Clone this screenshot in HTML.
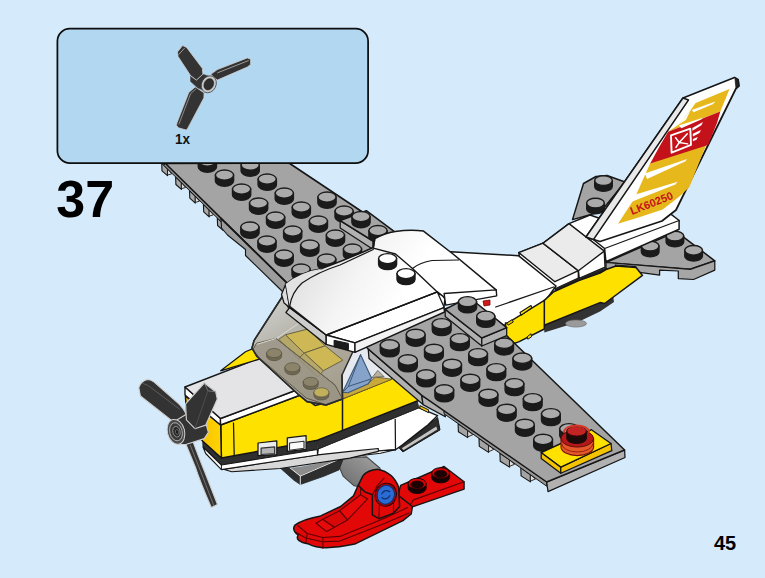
<!DOCTYPE html>
<html><head><meta charset="utf-8"><title>37</title>
<style>
html,body{margin:0;padding:0;}
body{width:765px;height:578px;overflow:hidden;background:#d5ebfb;position:relative;font-family:"Liberation Sans",sans-serif;}
svg{position:absolute;left:0;top:0;}
.box{position:absolute;left:56.5px;top:27.8px;width:309px;height:132.5px;border:1.7px solid #0d0d0d;border-radius:13px;background:#b2d7f1;}
.step{position:absolute;left:56.3px;top:171px;font-weight:bold;font-size:52px;line-height:57px;color:#000;}
.qty{position:absolute;left:174.6px;top:130.6px;font-weight:bold;font-size:15px;line-height:16px;color:#111;transform:scaleX(0.9);transform-origin:0 0;}
.pg{position:absolute;left:714px;top:532px;font-weight:bold;font-size:20px;line-height:22px;color:#000;}
</style></head><body>
<svg width="765" height="578" viewBox="0 0 765 578">
<polygon points="161.7,163.2 162.0,170.8 167.5,175.7 167.5,168.9" fill="#a9a9a9" stroke="#161616" stroke-width="1.125" stroke-linejoin="round" />
<polygon points="167.5,168.9 167.5,175.0 171.7,173.9" fill="#dedede" stroke="#161616" stroke-width="0.875" stroke-linejoin="round" />
<polygon points="175.6,176.9 175.9,184.5 181.4,189.4 181.4,182.6" fill="#a9a9a9" stroke="#161616" stroke-width="1.125" stroke-linejoin="round" />
<polygon points="181.4,182.6 181.4,188.7 185.6,187.5" fill="#dedede" stroke="#161616" stroke-width="0.875" stroke-linejoin="round" />
<polygon points="189.5,190.6 189.8,198.2 195.3,203.1 195.3,196.3" fill="#a9a9a9" stroke="#161616" stroke-width="1.125" stroke-linejoin="round" />
<polygon points="195.3,196.3 195.3,202.4 199.5,201.2" fill="#dedede" stroke="#161616" stroke-width="0.875" stroke-linejoin="round" />
<polygon points="203.4,204.3 203.7,211.9 209.2,216.8 209.2,210.0" fill="#a9a9a9" stroke="#161616" stroke-width="1.125" stroke-linejoin="round" />
<polygon points="209.2,210.0 209.2,216.1 213.4,214.9" fill="#dedede" stroke="#161616" stroke-width="0.875" stroke-linejoin="round" />
<polygon points="217.3,217.9 217.6,225.5 223.1,230.4 223.1,223.6" fill="#a9a9a9" stroke="#161616" stroke-width="1.125" stroke-linejoin="round" />
<polygon points="223.1,223.6 223.1,229.7 227.3,228.6" fill="#dedede" stroke="#161616" stroke-width="0.875" stroke-linejoin="round" />
<polygon points="165.5,163.5 290.0,286.0 288.2,287.7 163.7,165.2" fill="#8e8e8e" stroke="#161616" stroke-width="1.0" stroke-linejoin="round" />
<polygon points="165.5,163.5 289.0,163.0 352.0,205.0 392.0,232.0 400.0,262.0 290.0,286.0" fill="#a4a4a4" stroke="#161616" stroke-width="1.625" stroke-linejoin="round" />
<polygon points="221.0,218.5 290.0,286.0 283.0,292.0 245.5,255.5 245.5,249.5 227.5,235.0 221.5,228.0" fill="#9c9c9c" stroke="#161616" stroke-width="1.125" stroke-linejoin="round" />
<polyline points="221.0,218.5 290.0,286.0" fill="none" stroke="#161616" stroke-width="1.625" stroke-linejoin="round" stroke-linecap="round" />
<path d="M224.0,151.1 L224.0,157.1 A9.1,5.1 0 0 0 242.2,157.1 L242.2,151.1 Z" fill="#1b1b1b" stroke="#1b1b1b" stroke-width="1.4"/>
<ellipse cx="233.1" cy="151.1" rx="9.1" ry="5.1" fill="#ababab" stroke="#1b1b1b" stroke-width="1.4" />
<path d="M198.3,161.1 L198.3,167.1 A9.1,5.1 0 0 0 216.5,167.1 L216.5,161.1 Z" fill="#1b1b1b" stroke="#1b1b1b" stroke-width="1.4"/>
<ellipse cx="207.4" cy="161.1" rx="9.1" ry="5.1" fill="#ababab" stroke="#1b1b1b" stroke-width="1.4" />
<path d="M241.1,165.1 L241.1,171.1 A9.1,5.1 0 0 0 259.3,171.1 L259.3,165.1 Z" fill="#1b1b1b" stroke="#1b1b1b" stroke-width="1.4"/>
<ellipse cx="250.2" cy="165.1" rx="9.1" ry="5.1" fill="#ababab" stroke="#1b1b1b" stroke-width="1.4" />
<path d="M215.4,175.1 L215.4,181.1 A9.1,5.1 0 0 0 233.6,181.1 L233.6,175.1 Z" fill="#1b1b1b" stroke="#1b1b1b" stroke-width="1.4"/>
<ellipse cx="224.5" cy="175.1" rx="9.1" ry="5.1" fill="#ababab" stroke="#1b1b1b" stroke-width="1.4" />
<path d="M258.1,179.1 L258.1,185.1 A9.1,5.1 0 0 0 276.4,185.1 L276.4,179.1 Z" fill="#1b1b1b" stroke="#1b1b1b" stroke-width="1.4"/>
<ellipse cx="267.2" cy="179.1" rx="9.1" ry="5.1" fill="#ababab" stroke="#1b1b1b" stroke-width="1.4" />
<path d="M232.5,189.1 L232.5,195.1 A9.1,5.1 0 0 0 250.7,195.1 L250.7,189.1 Z" fill="#1b1b1b" stroke="#1b1b1b" stroke-width="1.4"/>
<ellipse cx="241.6" cy="189.1" rx="9.1" ry="5.1" fill="#ababab" stroke="#1b1b1b" stroke-width="1.4" />
<path d="M275.2,193.1 L275.2,199.1 A9.1,5.1 0 0 0 293.4,199.1 L293.4,193.1 Z" fill="#1b1b1b" stroke="#1b1b1b" stroke-width="1.4"/>
<ellipse cx="284.3" cy="193.1" rx="9.1" ry="5.1" fill="#ababab" stroke="#1b1b1b" stroke-width="1.4" />
<path d="M317.9,197.1 L317.9,203.1 A9.1,5.1 0 0 0 336.1,203.1 L336.1,197.1 Z" fill="#1b1b1b" stroke="#1b1b1b" stroke-width="1.4"/>
<ellipse cx="327.0" cy="197.1" rx="9.1" ry="5.1" fill="#ababab" stroke="#1b1b1b" stroke-width="1.4" />
<path d="M249.5,203.1 L249.5,209.1 A9.1,5.1 0 0 0 267.7,209.1 L267.7,203.1 Z" fill="#1b1b1b" stroke="#1b1b1b" stroke-width="1.4"/>
<ellipse cx="258.6" cy="203.1" rx="9.1" ry="5.1" fill="#ababab" stroke="#1b1b1b" stroke-width="1.4" />
<path d="M292.2,207.1 L292.2,213.1 A9.1,5.1 0 0 0 310.4,213.1 L310.4,207.1 Z" fill="#1b1b1b" stroke="#1b1b1b" stroke-width="1.4"/>
<ellipse cx="301.3" cy="207.1" rx="9.1" ry="5.1" fill="#ababab" stroke="#1b1b1b" stroke-width="1.4" />
<path d="M335.0,211.1 L335.0,217.1 A9.1,5.1 0 0 0 353.2,217.1 L353.2,211.1 Z" fill="#1b1b1b" stroke="#1b1b1b" stroke-width="1.4"/>
<ellipse cx="344.1" cy="211.1" rx="9.1" ry="5.1" fill="#ababab" stroke="#1b1b1b" stroke-width="1.4" />
<path d="M266.5,217.1 L266.5,223.1 A9.1,5.1 0 0 0 284.8,223.1 L284.8,217.1 Z" fill="#1b1b1b" stroke="#1b1b1b" stroke-width="1.4"/>
<ellipse cx="275.6" cy="217.1" rx="9.1" ry="5.1" fill="#ababab" stroke="#1b1b1b" stroke-width="1.4" />
<path d="M309.3,221.1 L309.3,227.1 A9.1,5.1 0 0 0 327.5,227.1 L327.5,221.1 Z" fill="#1b1b1b" stroke="#1b1b1b" stroke-width="1.4"/>
<ellipse cx="318.4" cy="221.1" rx="9.1" ry="5.1" fill="#ababab" stroke="#1b1b1b" stroke-width="1.4" />
<path d="M240.8,227.1 L240.8,233.1 A9.1,5.1 0 0 0 259.1,233.1 L259.1,227.1 Z" fill="#1b1b1b" stroke="#1b1b1b" stroke-width="1.4"/>
<ellipse cx="249.9" cy="227.1" rx="9.1" ry="5.1" fill="#ababab" stroke="#1b1b1b" stroke-width="1.4" />
<path d="M283.6,231.1 L283.6,237.1 A9.1,5.1 0 0 0 301.8,237.1 L301.8,231.1 Z" fill="#1b1b1b" stroke="#1b1b1b" stroke-width="1.4"/>
<ellipse cx="292.7" cy="231.1" rx="9.1" ry="5.1" fill="#ababab" stroke="#1b1b1b" stroke-width="1.4" />
<path d="M326.3,235.1 L326.3,241.1 A9.1,5.1 0 0 0 344.6,241.1 L344.6,235.1 Z" fill="#1b1b1b" stroke="#1b1b1b" stroke-width="1.4"/>
<ellipse cx="335.4" cy="235.1" rx="9.1" ry="5.1" fill="#ababab" stroke="#1b1b1b" stroke-width="1.4" />
<path d="M257.9,241.1 L257.9,247.1 A9.1,5.1 0 0 0 276.1,247.1 L276.1,241.1 Z" fill="#1b1b1b" stroke="#1b1b1b" stroke-width="1.4"/>
<ellipse cx="267.0" cy="241.1" rx="9.1" ry="5.1" fill="#ababab" stroke="#1b1b1b" stroke-width="1.4" />
<path d="M300.6,245.1 L300.6,251.1 A9.1,5.1 0 0 0 318.9,251.1 L318.9,245.1 Z" fill="#1b1b1b" stroke="#1b1b1b" stroke-width="1.4"/>
<ellipse cx="309.8" cy="245.1" rx="9.1" ry="5.1" fill="#ababab" stroke="#1b1b1b" stroke-width="1.4" />
<path d="M343.4,249.1 L343.4,255.1 A9.1,5.1 0 0 0 361.6,255.1 L361.6,249.1 Z" fill="#1b1b1b" stroke="#1b1b1b" stroke-width="1.4"/>
<ellipse cx="352.5" cy="249.1" rx="9.1" ry="5.1" fill="#ababab" stroke="#1b1b1b" stroke-width="1.4" />
<path d="M274.9,255.1 L274.9,261.1 A9.1,5.1 0 0 0 293.2,261.1 L293.2,255.1 Z" fill="#1b1b1b" stroke="#1b1b1b" stroke-width="1.4"/>
<ellipse cx="284.1" cy="255.1" rx="9.1" ry="5.1" fill="#ababab" stroke="#1b1b1b" stroke-width="1.4" />
<path d="M317.7,259.1 L317.7,265.1 A9.1,5.1 0 0 0 335.9,265.1 L335.9,259.1 Z" fill="#1b1b1b" stroke="#1b1b1b" stroke-width="1.4"/>
<ellipse cx="326.8" cy="259.1" rx="9.1" ry="5.1" fill="#ababab" stroke="#1b1b1b" stroke-width="1.4" />
<path d="M292.0,269.1 L292.0,275.1 A9.1,5.1 0 0 0 310.2,275.1 L310.2,269.1 Z" fill="#1b1b1b" stroke="#1b1b1b" stroke-width="1.4"/>
<ellipse cx="301.1" cy="269.1" rx="9.1" ry="5.1" fill="#ababab" stroke="#1b1b1b" stroke-width="1.4" />
<path d="M334.8,273.1 L334.8,279.1 A9.1,5.1 0 0 0 353.0,279.1 L353.0,273.1 Z" fill="#1b1b1b" stroke="#1b1b1b" stroke-width="1.4"/>
<ellipse cx="343.9" cy="273.1" rx="9.1" ry="5.1" fill="#ababab" stroke="#1b1b1b" stroke-width="1.4" />
<polygon points="340.2,220.6 372.9,241.0 372.9,249.3 340.2,227.9" fill="#b1b1b1" stroke="#161616" stroke-width="1.25" stroke-linejoin="round" />
<polygon points="340.2,220.6 366.3,210.7 396.4,233.1 372.9,241.0" fill="#a4a4a4" stroke="#161616" stroke-width="1.5" stroke-linejoin="round" />
<path d="M351.9,216.6 L351.9,222.6 A9.1,5.1 0 0 0 370.1,222.6 L370.1,216.6 Z" fill="#1b1b1b" stroke="#1b1b1b" stroke-width="1.4"/>
<ellipse cx="361.0" cy="216.6" rx="9.1" ry="5.1" fill="#ababab" stroke="#1b1b1b" stroke-width="1.4" />
<path d="M368.9,230.6 L368.9,236.6 A9.1,5.1 0 0 0 387.1,236.6 L387.1,230.6 Z" fill="#1b1b1b" stroke="#1b1b1b" stroke-width="1.4"/>
<ellipse cx="378.0" cy="230.6" rx="9.1" ry="5.1" fill="#ababab" stroke="#1b1b1b" stroke-width="1.4" />
<polygon points="583.5,183.5 596.0,176.5 607.0,175.5 625.0,182.0 600.8,211.8 572.5,219.6" fill="#a4a4a4" stroke="#161616" stroke-width="1.5" stroke-linejoin="round" />
<path d="M594.7,180.6 L594.7,186.6 A8.8,4.8 0 0 0 612.3,186.6 L612.3,180.6 Z" fill="#1b1b1b" stroke="#1b1b1b" stroke-width="1.4"/>
<ellipse cx="603.5" cy="180.6" rx="8.8" ry="4.8" fill="#ababab" stroke="#1b1b1b" stroke-width="1.4" />
<path d="M586.7,203.1 L586.7,209.1 A8.8,4.8 0 0 0 604.3,209.1 L604.3,203.1 Z" fill="#1b1b1b" stroke="#1b1b1b" stroke-width="1.4"/>
<ellipse cx="595.5" cy="203.1" rx="8.8" ry="4.8" fill="#ababab" stroke="#1b1b1b" stroke-width="1.4" />
<polygon points="606.0,262.5 666.4,236.1 676.6,231.9 714.8,260.8 690.2,269.3" fill="#a4a4a4" stroke="#161616" stroke-width="1.5" stroke-linejoin="round" />
<polygon points="606.0,262.5 690.2,269.3 714.8,260.8 714.8,270.1 693.6,279.5 678.3,278.6 678.3,271.0 659.6,270.1 659.6,275.2 635.8,271.8 635.8,266.7 615.4,265.0 615.4,269.3 606.0,268.4" fill="#a6a6a6" stroke="#161616" stroke-width="1.25" stroke-linejoin="round" />
<path d="M641.4,246.1 L641.4,252.1 A8.8,4.8 0 0 0 659.0,252.1 L659.0,246.1 Z" fill="#1b1b1b" stroke="#1b1b1b" stroke-width="1.4"/>
<ellipse cx="650.2" cy="246.1" rx="8.8" ry="4.8" fill="#ababab" stroke="#1b1b1b" stroke-width="1.4" />
<path d="M666.1,236.1 L666.1,242.1 A8.8,4.8 0 0 0 683.7,242.1 L683.7,236.1 Z" fill="#1b1b1b" stroke="#1b1b1b" stroke-width="1.4"/>
<ellipse cx="674.9" cy="236.1" rx="8.8" ry="4.8" fill="#ababab" stroke="#1b1b1b" stroke-width="1.4" />
<path d="M684.8,250.3 L684.8,256.3 A8.8,4.8 0 0 0 702.4,256.3 L702.4,250.3 Z" fill="#1b1b1b" stroke="#1b1b1b" stroke-width="1.4"/>
<ellipse cx="693.6" cy="250.3" rx="8.8" ry="4.8" fill="#ababab" stroke="#1b1b1b" stroke-width="1.4" />
<polygon points="518.8,252.6 543.1,243.2 578.4,270.7 578.4,278.3 555.7,288.7 519.6,258.0" fill="#ffffff" stroke="#161616" stroke-width="1.5" stroke-linejoin="round" />
<polygon points="518.8,252.6 543.1,243.2 578.4,270.7 554.9,281.7" fill="#ebebeb" stroke="#161616" stroke-width="1.375" stroke-linejoin="round" />
<polygon points="543.1,243.2 569.0,223.6 590.0,215.0 610.0,222.0 604.3,251.1 605.1,267.1 579.2,278.5 578.4,270.7" fill="#ffffff" stroke="#161616" stroke-width="1.5" stroke-linejoin="round" />
<polygon points="543.1,243.2 569.0,223.6 604.3,251.1 578.4,270.7" fill="#ebebeb" stroke="#161616" stroke-width="1.375" stroke-linejoin="round" />
<polygon points="590.2,237.0 667.3,211.4 679.1,220.5 679.1,229.2 605.9,261.6 604.6,248.5" fill="#ffffff" stroke="#161616" stroke-width="1.5" stroke-linejoin="round" />
<polyline points="604.6,248.5 679.1,220.5" fill="none" stroke="#161616" stroke-width="1.25" stroke-linejoin="round" stroke-linecap="round" />
<polygon points="683.0,98.0 734.5,77.5 738.0,79.5 739.0,86.0 736.0,88.5 676.0,210.0 662.0,221.0 600.0,241.5 586.0,237.0" fill="#ffffff" stroke="#161616" stroke-width="1.75" stroke-linejoin="round" />
<polygon points="683.0,98.0 688.5,100.0 593.5,239.5 586.0,237.0" fill="#e9e9e9" stroke="#161616" stroke-width="1.375" stroke-linejoin="round" />
<polygon points="735.0,79.0 738.5,80.0 739.0,86.0 736.0,88.0" fill="#222" stroke="#161616" stroke-width="0.75" stroke-linejoin="round" />
<polygon points="679.2,124.2 691.0,109.6 695.6,103.1 729.4,89.0 728.4,91.8 720.3,111.6 668.1,131.8" fill="#e6b81c" stroke="none" stroke-width="1.2" stroke-linejoin="round" />
<polygon points="650.2,163.3 707.7,141.0 689.4,187.0 680.0,196.0 662.7,209.6 640.0,217.0 618.0,223.7 634.5,198.6" fill="#e6b81c" stroke="none" stroke-width="1.2" stroke-linejoin="round" />
<polygon points="668.1,131.8 697.5,120.6 720.3,111.6 717.1,122.7 708.2,144.9 650.2,163.5 659.6,146.2" fill="#c4121a" stroke="none" stroke-width="1.2" stroke-linejoin="round" />
<polygon points="691.8,109.9 715.4,101.5 713.2,104.1 693.6,112.2" fill="#ffffff" stroke="none" stroke-width="1.2" stroke-linejoin="round" />
<polygon points="678.7,125.6 703.0,117.7 701.2,119.5 681.3,128.2" fill="#ffffff" stroke="none" stroke-width="1.2" stroke-linejoin="round" />
<polygon points="679.2,124.2 691.0,109.6 685.8,120.1" fill="#ffffff" stroke="none" stroke-width="1.2" stroke-linejoin="round" />
<polygon points="644.7,173.5 687.1,159.1 685.5,161.3 647.1,179.0" fill="#ffffff" stroke="none" stroke-width="1.2" stroke-linejoin="round" />
<polygon points="629.8,196.3 677.6,181.8 675.3,184.5 629.8,202.5" fill="#ffffff" stroke="none" stroke-width="1.2" stroke-linejoin="round" />
<polygon points="671.0,135.4 690.3,128.7 691.0,144.9 671.6,152.7" fill="none" stroke="#fff" stroke-width="1.875" stroke-linejoin="round" />
<polyline points="675.6,137.7 679.2,142.5 687.3,133.8" fill="none" stroke="#fff" stroke-width="1.5" stroke-linejoin="round" stroke-linecap="round" />
<polyline points="675.9,147.5 679.2,142.5 687.7,143.9" fill="none" stroke="#fff" stroke-width="1.375" stroke-linejoin="round" stroke-linecap="round" />
<polygon points="692.3,127.9 703.0,122.0 701.4,125.3 692.5,130.8" fill="#fff" stroke="none" stroke-width="1.2" stroke-linejoin="round" />
<polygon points="692.8,133.8 700.9,129.9 699.5,132.9 692.9,136.4" fill="#fff" stroke="none" stroke-width="1.2" stroke-linejoin="round" />
<polygon points="692.9,139.0 697.8,137.1 696.5,139.7 692.9,141.2" fill="#fff" stroke="none" stroke-width="1.2" stroke-linejoin="round" />
<text x="0" y="0" transform="translate(632.0,215.0) rotate(-21.6)" font-family="Liberation Sans, sans-serif" font-weight="bold" font-size="11" fill="#c4121a" textLength="45" lengthAdjust="spacingAndGlyphs">LK60250</text>
<polygon points="444.0,292.0 450.5,251.8 518.4,255.7 556.0,286.0 546.0,300.0 509.0,326.0 470.0,318.0" fill="#ffffff" stroke="#161616" stroke-width="1.5" stroke-linejoin="round" />
<polygon points="544.3,325.0 600.0,302.4 613.0,295.0 614.0,302.0 600.0,311.5 578.0,322.0 544.3,332.5" fill="#333" stroke="none" stroke-width="1.2" stroke-linejoin="round" />
<ellipse cx="576.0" cy="323.5" rx="10.5" ry="3.6" fill="#9a9a9a" stroke="#666" stroke-width="0.6" />
<polygon points="544.3,328.0 600.0,305.5 600.0,302.0 544.3,324.0" fill="#333" stroke="none" stroke-width="1.2" stroke-linejoin="round" />
<polygon points="555.0,288.5 578.8,278.0 606.0,267.5 606.0,270.8 578.8,281.3 554.5,292.0" fill="#222" stroke="none" stroke-width="1.2" stroke-linejoin="round" />
<polygon points="544.3,300.4 553.7,291.8 578.8,280.6 600.0,273.0 606.0,269.5 616.0,266.0 636.0,267.5 642.5,275.4 604.6,303.5 600.0,302.6 544.3,325.2" fill="#ffe100" stroke="#161616" stroke-width="1.5" stroke-linejoin="round" />
<polygon points="506.0,336.0 505.5,323.0 508.2,322.7 544.3,300.4 544.3,329.0 519.2,341.6 510.0,345.0" fill="#ffe100" stroke="#161616" stroke-width="1.5" stroke-linejoin="round" />
<polyline points="495.7,307.0 553.7,287.0" fill="none" stroke="#161616" stroke-width="1.25" stroke-linejoin="round" stroke-linecap="round" />
<polygon points="520.0,312.5 531.0,305.5 531.8,307.8 521.1,315.2" fill="#ffe100" stroke="#161616" stroke-width="1.125" stroke-linejoin="round" />
<polygon points="506.7,323.1 512.2,319.6 513.3,322.0 508.2,325.1" fill="#f5c400" stroke="#161616" stroke-width="1.0" stroke-linejoin="round" />
<polygon points="527.1,336.9 531.0,333.7 531.5,336.9 527.8,339.2" fill="#ffe100" stroke="#161616" stroke-width="1.0" stroke-linejoin="round" />
<polygon points="397.9,446.7 402.9,451.9 440.0,429.9 437.6,417.5 417.1,433.9" fill="#2c2c2c" stroke="#161616" stroke-width="1.0" stroke-linejoin="round" />
<polygon points="401.8,448.2 403.6,450.0 437.3,429.5 436.2,426.6" fill="#c4c4c4" stroke="none" stroke-width="1.2" stroke-linejoin="round" />
<polygon points="318.3,448.6 418.6,407.6 437.6,415.6 428.1,424.8 417.1,433.4 402.5,444.9 395.5,449.7 317.4,455.2" fill="#ffffff" stroke="#161616" stroke-width="1.375" stroke-linejoin="round" />
<polyline points="395.2,419.3 395.5,449.7" fill="none" stroke="#161616" stroke-width="1.25" stroke-linejoin="round" stroke-linecap="round" />
<polygon points="317.4,440.3 417.1,401.0 419.0,407.8 318.3,448.9" fill="#303030" stroke="#222" stroke-width="0.75" stroke-linejoin="round" />
<polygon points="419.9,405.6 428.5,409.8 428.5,412.7 419.9,408.3" fill="#f5c400" stroke="#161616" stroke-width="1.0" stroke-linejoin="round" />
<polygon points="300.0,458.1 317.4,455.2 395.5,449.7 380.5,453.3 300.0,462.8" fill="#f2f2f2" stroke="#161616" stroke-width="1.125" stroke-linejoin="round" />
<defs><linearGradient id="cyl" x1="0" y1="1" x2="1" y2="0"><stop offset="0" stop-color="#6a6a6a"/><stop offset="0.6" stop-color="#8c8c8c"/><stop offset="1" stop-color="#a5a5a5"/></linearGradient></defs>
<polygon points="340.8,459.6 347.8,457.6 366.7,456.9 380.0,468.2 381.0,479.2 360.4,487.0 354.1,485.8 343.1,476.1 339.2,466.7" fill="url(#cyl)" stroke="#444" stroke-width="1.125" stroke-linejoin="round" />
<polygon points="280.5,468.3 289.9,467.8 300.3,476.1 300.3,484.5 294.0,480.3" fill="#2e2e2e" stroke="#222" stroke-width="0.75" stroke-linejoin="round" />
<polygon points="289.9,467.8 300.3,466.7 336.9,459.9 339.0,462.0 300.3,476.1" fill="#8c8c8c" stroke="none" stroke-width="1.2" stroke-linejoin="round" />
<polygon points="300.3,476.1 336.9,460.2 343.2,458.9 339.0,469.9 324.4,476.1 300.3,484.5" fill="#2e2e2e" stroke="#222" stroke-width="0.75" stroke-linejoin="round" />
<polyline points="289.9,467.8 300.3,476.1 300.3,484.5" fill="none" stroke="#e8e8e8" stroke-width="1.0" stroke-linejoin="round" stroke-linecap="round" />
<polyline points="300.3,476.1 336.9,460.2" fill="none" stroke="#e8e8e8" stroke-width="1.0" stroke-linejoin="round" stroke-linecap="round" />
<polygon points="223.5,469.2 315.5,455.1 350.0,451.4 378.3,448.5 378.3,451.4 350.0,458.1 280.0,468.5 231.8,471.7" fill="#d9d9d9" stroke="#161616" stroke-width="1.125" stroke-linejoin="round" />
<polygon points="202.6,441.0 221.4,458.1 317.4,440.3 317.4,449.5 221.4,465.0 203.0,447.0" fill="#2f2f2f" stroke="#222" stroke-width="0.75" stroke-linejoin="round" />
<polygon points="203.0,447.0 221.4,465.0 317.4,449.5 317.4,455.0 221.4,469.6 205.7,453.5" fill="#ffffff" stroke="#161616" stroke-width="1.125" stroke-linejoin="round" />
<polyline points="221.4,465.0 221.4,469.6" fill="none" stroke="#161616" stroke-width="1.0" stroke-linejoin="round" stroke-linecap="round" />
<polygon points="220.7,425.0 300.5,395.0 315.0,405.4 342.5,398.6 390.4,379.0 412.0,369.0 450.0,355.0 450.0,388.0 417.1,401.0 342.5,430.4 317.4,440.3 221.4,458.1" fill="#ffe100" stroke="#161616" stroke-width="1.5" stroke-linejoin="round" />
<polyline points="342.5,398.6 342.5,430.2" fill="none" stroke="#161616" stroke-width="1.5" stroke-linejoin="round" stroke-linecap="round" />
<polyline points="233.5,423.0 234.2,455.5" fill="none" stroke="#161616" stroke-width="1.25" stroke-linejoin="round" stroke-linecap="round" />
<defs><linearGradient id="nz" x1="0" y1="0" x2="1" y2="0"><stop offset="0" stop-color="#f3b400"/><stop offset="1" stop-color="#ffd400"/></linearGradient></defs>
<polygon points="185.4,396.0 220.7,425.0 221.4,458.1 202.6,441.0 194.0,432.0 187.0,418.0" fill="url(#nz)" stroke="#161616" stroke-width="1.5" stroke-linejoin="round" />
<polygon points="258.0,443.0 276.8,440.9 276.8,454.5 258.0,455.6" fill="#ececec" stroke="#161616" stroke-width="1.25" stroke-linejoin="round" />
<polygon points="261.1,448.2 274.7,446.8 274.7,453.5 261.1,454.5" fill="#b5b5b5" stroke="#333" stroke-width="1.25" stroke-linejoin="round" />
<polygon points="287.3,437.8 306.1,435.7 306.1,449.3 287.3,451.4" fill="#ececec" stroke="#161616" stroke-width="1.25" stroke-linejoin="round" />
<polygon points="289.5,443.0 304.0,441.2 304.0,448.3 289.5,450.2" fill="#fafafa" stroke="#333" stroke-width="1.125" stroke-linejoin="round" />
<polygon points="185.0,387.0 220.5,418.5 220.5,425.0 185.0,395.0" fill="#ffffff" stroke="#161616" stroke-width="1.375" stroke-linejoin="round" />
<polygon points="220.5,418.5 300.5,388.5 300.5,395.0 220.5,425.0" fill="#ffffff" stroke="#161616" stroke-width="1.375" stroke-linejoin="round" />
<polygon points="185.0,387.0 262.5,357.0 300.5,388.5 220.5,418.5" fill="#e4e4e6" stroke="#161616" stroke-width="1.5" stroke-linejoin="round" />
<polygon points="220.7,370.8 245.5,351.8 255.9,347.3 263.8,357.8" fill="#ffe100" stroke="#161616" stroke-width="1.25" stroke-linejoin="round" />
<defs><linearGradient id="gl" x1="0" y1="0" x2="0.6" y2="1"><stop offset="0" stop-color="#d4d7d8"/><stop offset="0.4" stop-color="#b9b6ad"/><stop offset="1" stop-color="#a39d8c"/></linearGradient></defs>
<polygon points="327.0,335.0 356.0,343.0 372.0,346.0 392.0,372.0 392.0,379.0 342.5,399.0 330.0,380.0" fill="#e6eaee" stroke="#444" stroke-width="1.0" stroke-linejoin="round" />
<polygon points="342.5,398.9 342.5,392.7 368.4,383.3 375.5,377.0 392.0,379.2" fill="#c9a93c" stroke="#6b5a20" stroke-width="0.875" stroke-linejoin="round" />
<polygon points="342.5,392.4 360.6,354.7 371.6,378.2 368.4,383.7 348.0,392.7" fill="#86a3c9" stroke="#3d5878" stroke-width="1.125" stroke-linejoin="round" />
<polyline points="360.6,354.7 348.4,386.4 344.1,391.1" fill="none" stroke="#3d5878" stroke-width="1.0" stroke-linejoin="round" stroke-linecap="round" />
<polyline points="348.4,386.4 370.3,379.2" fill="none" stroke="#3d5878" stroke-width="1.0" stroke-linejoin="round" stroke-linecap="round" />
<polygon points="371.6,378.2 377.8,370.4 384.1,376.7 375.5,377.0" fill="#b9b29a" stroke="#555" stroke-width="0.75" stroke-linejoin="round" />
<polygon points="282.7,296.0 254.0,340.6 252.0,348.0 257.0,356.5 297.8,394.0 307.3,401.8 326.0,405.0 342.5,399.0 342.0,375.0 356.0,345.0 327.0,335.0 290.5,312.0" fill="url(#gl)" stroke="#2b2b2b" stroke-width="1.5" stroke-linejoin="round" />
<polygon points="285.4,334.8 307.6,329.1 325.1,345.8 304.2,353.1" fill="#cdb855" stroke="#6a6142" stroke-width="1.0" stroke-linejoin="round" />
<polygon points="304.2,353.1 325.1,345.8 342.9,360.2 323.3,370.7" fill="#cdb855" stroke="#6a6142" stroke-width="1.0" stroke-linejoin="round" />
<polygon points="278.8,339.3 285.4,334.8 304.2,353.1 298.4,358.9" fill="#b5a868" stroke="#6a6142" stroke-width="0.875" stroke-linejoin="round" />
<polygon points="298.4,358.9 304.2,353.1 323.3,370.7 318.0,377.2" fill="#b5a868" stroke="#6a6142" stroke-width="0.875" stroke-linejoin="round" />
<polygon points="256.6,343.2 276.2,338.5 335.0,385.0 342.4,398.6 325.9,404.6 306.3,398.1 259.2,357.6 252.7,349.7" fill="#9a9484" stroke="#5d5744" stroke-width="1.0" stroke-linejoin="round" fill-opacity="0.8"/>
<path d="M266.6,353.1 L266.6,356.1 A7.5,4.6 0 0 0 281.6,356.1 L281.6,353.1 Z" fill="#6f6853" stroke="#575140" stroke-width="0.75" stroke-linejoin="round" stroke-linecap="round" />
<ellipse cx="274.1" cy="353.1" rx="7.5" ry="4.6" fill="#8c846a" stroke="#575140" stroke-width="0.7" />
<path d="M284.9,367.3 L284.9,370.3 A7.5,4.6 0 0 0 299.9,370.3 L299.9,367.3 Z" fill="#6f6853" stroke="#575140" stroke-width="0.75" stroke-linejoin="round" stroke-linecap="round" />
<ellipse cx="292.4" cy="367.3" rx="7.5" ry="4.6" fill="#8c846a" stroke="#575140" stroke-width="0.7" />
<path d="M303.2,381.9 L303.2,384.9 A7.5,4.6 0 0 0 318.2,384.9 L318.2,381.9 Z" fill="#6f6853" stroke="#575140" stroke-width="0.75" stroke-linejoin="round" stroke-linecap="round" />
<ellipse cx="310.7" cy="381.9" rx="7.5" ry="4.6" fill="#8c846a" stroke="#575140" stroke-width="0.7" />
<path d="M313.9,392.4 L313.9,395.4 A7.5,4.6 0 0 0 328.9,395.4 L328.9,392.4 Z" fill="#6f6853" stroke="#575140" stroke-width="0.75" stroke-linejoin="round" stroke-linecap="round" />
<ellipse cx="321.4" cy="392.4" rx="7.5" ry="4.6" fill="#c2b15c" stroke="#575140" stroke-width="0.7" />
<polyline points="282.7,296.0 254.0,340.6 252.0,348.0 257.0,356.5 297.8,394.0 307.3,401.8 326.0,405.0 342.5,399.0 342.0,375.0" fill="none" stroke="#2b2b2b" stroke-width="1.5" stroke-linejoin="round" stroke-linecap="round" />
<polyline points="257.1,344.2 276.2,338.5 298.4,323.6" fill="none" stroke="#d8d8d8" stroke-width="1.0" stroke-linejoin="round" stroke-linecap="round" />
<polyline points="276.2,338.5 335.0,385.0" fill="none" stroke="#6a6452" stroke-width="0.875" stroke-linejoin="round" stroke-linecap="round" />
<polygon points="368.2,349.0 421.8,395.4 423.0,404.6 369.0,358.6" fill="#b1b1b1" stroke="#161616" stroke-width="1.25" stroke-linejoin="round" />
<polygon points="421.8,395.4 444.0,409.5 445.4,416.8 423.0,404.6" fill="#b1b1b1" stroke="#161616" stroke-width="1.25" stroke-linejoin="round" />
<polygon points="458.1,423.7 458.4,431.7 467.7,437.6 467.7,430.4" fill="#a4a4a4" stroke="#161616" stroke-width="1.125" stroke-linejoin="round" />
<polygon points="467.7,430.4 467.7,436.9 472.7,434.8" fill="#dedede" stroke="#161616" stroke-width="0.875" stroke-linejoin="round" />
<polygon points="479.0,438.4 479.3,446.4 488.6,452.4 488.6,445.2" fill="#a4a4a4" stroke="#161616" stroke-width="1.125" stroke-linejoin="round" />
<polygon points="488.6,445.2 488.6,451.7 493.6,449.5" fill="#dedede" stroke="#161616" stroke-width="0.875" stroke-linejoin="round" />
<polygon points="499.9,453.2 500.2,461.2 509.5,467.1 509.5,459.9" fill="#a4a4a4" stroke="#161616" stroke-width="1.125" stroke-linejoin="round" />
<polygon points="509.5,459.9 509.5,466.4 514.5,464.3" fill="#dedede" stroke="#161616" stroke-width="0.875" stroke-linejoin="round" />
<polygon points="520.8,467.9 521.1,475.9 530.4,481.9 530.4,474.7" fill="#a4a4a4" stroke="#161616" stroke-width="1.125" stroke-linejoin="round" />
<polygon points="530.4,474.7 530.4,481.2 535.4,479.0" fill="#dedede" stroke="#161616" stroke-width="0.875" stroke-linejoin="round" />
<polygon points="444.0,409.5 546.7,482.0 546.7,486.2 444.0,413.7" fill="#979797" stroke="#161616" stroke-width="1.0" stroke-linejoin="round" />
<polygon points="546.7,482.0 624.6,450.0 625.0,457.5 548.0,491.6" fill="#b1b1b1" stroke="#161616" stroke-width="1.25" stroke-linejoin="round" />
<polygon points="366.0,347.0 421.8,395.4 546.7,482.0 624.6,450.0 506.0,335.0 470.0,300.0 445.0,309.0" fill="#a4a4a4" stroke="#161616" stroke-width="1.5" stroke-linejoin="round" />
<path d="M432.3,323.8 L432.3,330.4 A9.4,5.2 0 0 0 451.1,330.4 L451.1,323.8 Z" fill="#1b1b1b" stroke="#1b1b1b" stroke-width="1.4"/>
<ellipse cx="441.7" cy="323.8" rx="9.4" ry="5.2" fill="#ababab" stroke="#1b1b1b" stroke-width="1.4" />
<path d="M406.3,334.4 L406.3,341.0 A9.4,5.2 0 0 0 425.1,341.0 L425.1,334.4 Z" fill="#1b1b1b" stroke="#1b1b1b" stroke-width="1.4"/>
<ellipse cx="415.7" cy="334.4" rx="9.4" ry="5.2" fill="#ababab" stroke="#1b1b1b" stroke-width="1.4" />
<path d="M450.5,338.8 L450.5,345.4 A9.4,5.2 0 0 0 469.3,345.4 L469.3,338.8 Z" fill="#1b1b1b" stroke="#1b1b1b" stroke-width="1.4"/>
<ellipse cx="459.9" cy="338.8" rx="9.4" ry="5.2" fill="#ababab" stroke="#1b1b1b" stroke-width="1.4" />
<path d="M494.7,343.2 L494.7,349.8 A9.4,5.2 0 0 0 513.5,349.8 L513.5,343.2 Z" fill="#1b1b1b" stroke="#1b1b1b" stroke-width="1.4"/>
<ellipse cx="504.1" cy="343.2" rx="9.4" ry="5.2" fill="#ababab" stroke="#1b1b1b" stroke-width="1.4" />
<path d="M380.3,345.0 L380.3,351.6 A9.4,5.2 0 0 0 399.1,351.6 L399.1,345.0 Z" fill="#1b1b1b" stroke="#1b1b1b" stroke-width="1.4"/>
<ellipse cx="389.7" cy="345.0" rx="9.4" ry="5.2" fill="#ababab" stroke="#1b1b1b" stroke-width="1.4" />
<path d="M424.5,349.4 L424.5,356.0 A9.4,5.2 0 0 0 443.3,356.0 L443.3,349.4 Z" fill="#1b1b1b" stroke="#1b1b1b" stroke-width="1.4"/>
<ellipse cx="433.9" cy="349.4" rx="9.4" ry="5.2" fill="#ababab" stroke="#1b1b1b" stroke-width="1.4" />
<path d="M468.7,353.8 L468.7,360.4 A9.4,5.2 0 0 0 487.5,360.4 L487.5,353.8 Z" fill="#1b1b1b" stroke="#1b1b1b" stroke-width="1.4"/>
<ellipse cx="478.1" cy="353.8" rx="9.4" ry="5.2" fill="#ababab" stroke="#1b1b1b" stroke-width="1.4" />
<path d="M512.9,358.2 L512.9,364.8 A9.4,5.2 0 0 0 531.7,364.8 L531.7,358.2 Z" fill="#1b1b1b" stroke="#1b1b1b" stroke-width="1.4"/>
<ellipse cx="522.3" cy="358.2" rx="9.4" ry="5.2" fill="#ababab" stroke="#1b1b1b" stroke-width="1.4" />
<path d="M398.5,360.0 L398.5,366.6 A9.4,5.2 0 0 0 417.3,366.6 L417.3,360.0 Z" fill="#1b1b1b" stroke="#1b1b1b" stroke-width="1.4"/>
<ellipse cx="407.9" cy="360.0" rx="9.4" ry="5.2" fill="#ababab" stroke="#1b1b1b" stroke-width="1.4" />
<path d="M442.7,364.4 L442.7,371.0 A9.4,5.2 0 0 0 461.5,371.0 L461.5,364.4 Z" fill="#1b1b1b" stroke="#1b1b1b" stroke-width="1.4"/>
<ellipse cx="452.1" cy="364.4" rx="9.4" ry="5.2" fill="#ababab" stroke="#1b1b1b" stroke-width="1.4" />
<path d="M486.9,368.8 L486.9,375.4 A9.4,5.2 0 0 0 505.7,375.4 L505.7,368.8 Z" fill="#1b1b1b" stroke="#1b1b1b" stroke-width="1.4"/>
<ellipse cx="496.3" cy="368.8" rx="9.4" ry="5.2" fill="#ababab" stroke="#1b1b1b" stroke-width="1.4" />
<path d="M416.7,375.0 L416.7,381.6 A9.4,5.2 0 0 0 435.5,381.6 L435.5,375.0 Z" fill="#1b1b1b" stroke="#1b1b1b" stroke-width="1.4"/>
<ellipse cx="426.1" cy="375.0" rx="9.4" ry="5.2" fill="#ababab" stroke="#1b1b1b" stroke-width="1.4" />
<path d="M460.9,379.4 L460.9,386.0 A9.4,5.2 0 0 0 479.7,386.0 L479.7,379.4 Z" fill="#1b1b1b" stroke="#1b1b1b" stroke-width="1.4"/>
<ellipse cx="470.3" cy="379.4" rx="9.4" ry="5.2" fill="#ababab" stroke="#1b1b1b" stroke-width="1.4" />
<path d="M505.1,383.8 L505.1,390.4 A9.4,5.2 0 0 0 523.9,390.4 L523.9,383.8 Z" fill="#1b1b1b" stroke="#1b1b1b" stroke-width="1.4"/>
<ellipse cx="514.5" cy="383.8" rx="9.4" ry="5.2" fill="#ababab" stroke="#1b1b1b" stroke-width="1.4" />
<path d="M434.9,390.0 L434.9,396.6 A9.4,5.2 0 0 0 453.7,396.6 L453.7,390.0 Z" fill="#1b1b1b" stroke="#1b1b1b" stroke-width="1.4"/>
<ellipse cx="444.3" cy="390.0" rx="9.4" ry="5.2" fill="#ababab" stroke="#1b1b1b" stroke-width="1.4" />
<path d="M479.1,394.4 L479.1,401.0 A9.4,5.2 0 0 0 497.9,401.0 L497.9,394.4 Z" fill="#1b1b1b" stroke="#1b1b1b" stroke-width="1.4"/>
<ellipse cx="488.5" cy="394.4" rx="9.4" ry="5.2" fill="#ababab" stroke="#1b1b1b" stroke-width="1.4" />
<path d="M523.3,398.8 L523.3,405.4 A9.4,5.2 0 0 0 542.1,405.4 L542.1,398.8 Z" fill="#1b1b1b" stroke="#1b1b1b" stroke-width="1.4"/>
<ellipse cx="532.7" cy="398.8" rx="9.4" ry="5.2" fill="#ababab" stroke="#1b1b1b" stroke-width="1.4" />
<path d="M497.3,409.4 L497.3,416.0 A9.4,5.2 0 0 0 516.1,416.0 L516.1,409.4 Z" fill="#1b1b1b" stroke="#1b1b1b" stroke-width="1.4"/>
<ellipse cx="506.7" cy="409.4" rx="9.4" ry="5.2" fill="#ababab" stroke="#1b1b1b" stroke-width="1.4" />
<path d="M541.5,413.8 L541.5,420.4 A9.4,5.2 0 0 0 560.3,420.4 L560.3,413.8 Z" fill="#1b1b1b" stroke="#1b1b1b" stroke-width="1.4"/>
<ellipse cx="550.9" cy="413.8" rx="9.4" ry="5.2" fill="#ababab" stroke="#1b1b1b" stroke-width="1.4" />
<path d="M515.5,424.4 L515.5,431.0 A9.4,5.2 0 0 0 534.3,431.0 L534.3,424.4 Z" fill="#1b1b1b" stroke="#1b1b1b" stroke-width="1.4"/>
<ellipse cx="524.9" cy="424.4" rx="9.4" ry="5.2" fill="#ababab" stroke="#1b1b1b" stroke-width="1.4" />
<path d="M559.7,428.8 L559.7,435.4 A9.4,5.2 0 0 0 578.5,435.4 L578.5,428.8 Z" fill="#1b1b1b" stroke="#1b1b1b" stroke-width="1.4"/>
<ellipse cx="569.1" cy="428.8" rx="9.4" ry="5.2" fill="#ababab" stroke="#1b1b1b" stroke-width="1.4" />
<path d="M533.7,439.4 L533.7,446.0 A9.4,5.2 0 0 0 552.5,446.0 L552.5,439.4 Z" fill="#1b1b1b" stroke="#1b1b1b" stroke-width="1.4"/>
<ellipse cx="543.1" cy="439.4" rx="9.4" ry="5.2" fill="#ababab" stroke="#1b1b1b" stroke-width="1.4" />
<path d="M551.9,454.4 L551.9,461.0 A9.4,5.2 0 0 0 570.7,461.0 L570.7,454.4 Z" fill="#1b1b1b" stroke="#1b1b1b" stroke-width="1.4"/>
<ellipse cx="561.3" cy="454.4" rx="9.4" ry="5.2" fill="#ababab" stroke="#1b1b1b" stroke-width="1.4" />
<polygon points="541.2,452.5 560.8,467.1 560.8,473.3 541.2,458.4" fill="#f5c400" stroke="#161616" stroke-width="1.25" stroke-linejoin="round" />
<polygon points="560.8,467.1 611.0,443.5 611.8,450.6 560.8,473.3" fill="#f5c400" stroke="#161616" stroke-width="1.25" stroke-linejoin="round" />
<polygon points="541.2,452.5 591.4,429.7 611.0,443.5 560.8,467.1" fill="#ffe100" stroke="#161616" stroke-width="1.375" stroke-linejoin="round" />
<path d="M561.0,438.5 L561.0,447.0 A16.3,8.6 0 0 0 593.5999999999999,447.0 L593.5999999999999,438.5 Z" fill="#e55a2a" stroke="#7a1408" stroke-width="1.125" stroke-linejoin="round" stroke-linecap="round" />
<path d="M561.8,444.0 A15.5,8 0 0 0 592.8,444.0" fill="none" stroke="#9a2010" stroke-width="1.0" stroke-linejoin="round" stroke-linecap="round" />
<ellipse cx="577.3" cy="438.5" rx="16.3" ry="8.6" fill="#b31919" stroke="#5a0808" stroke-width="0.9" />
<path d="M566.8000000000001,431.0 L566.8000000000001,438.5 A9.8,5 0 0 0 586.4,438.5 L586.4,431.0 Z" fill="#1c0a0a" stroke="#1c0a0a" stroke-width="1.0" stroke-linejoin="round" stroke-linecap="round" />
<ellipse cx="576.6" cy="431.0" rx="9.8" ry="5.0" fill="#c22424" stroke="#4a0a0a" stroke-width="1.0" />
<path d="M564.1,432.0 A12.5,6.4 0 0 1 589.1,432.0" fill="none" stroke="#d23a2a" stroke-width="2.0" stroke-linejoin="round" stroke-linecap="round" />
<defs><linearGradient id="rf" x1="0" y1="0.3" x2="1" y2="0.6"><stop offset="0" stop-color="#dcdcdc"/><stop offset="0.35" stop-color="#f4f4f4"/><stop offset="0.6" stop-color="#ffffff"/></linearGradient></defs>
<polygon points="285.7,284.1 281.5,294.5 284.1,303.1 289.6,307.6" fill="#dcdcdc" stroke="#161616" stroke-width="1.25" stroke-linejoin="round" />
<polygon points="289.6,307.6 326.2,335.0 326.2,344.4 285.9,312.5" fill="#cdcdcd" stroke="#161616" stroke-width="1.25" stroke-linejoin="round" />
<polygon points="289.6,307.6 326.2,335.0 355.0,342.9 443.9,307.6 445.2,295.8 437.3,291.9 326.2,335.0" fill="#ffffff" stroke="#161616" stroke-width="1.375" stroke-linejoin="round" />
<polygon points="326.2,335.0 326.2,344.4 355.0,352.3 355.0,342.9" fill="#ffffff" stroke="#161616" stroke-width="1.375" stroke-linejoin="round" />
<polygon points="355.0,342.9 443.9,307.6 444.6,312.0 355.0,352.3" fill="#f2f2f2" stroke="#161616" stroke-width="1.375" stroke-linejoin="round" />
<polygon points="334.1,340.3 348.4,343.4 348.4,349.7 334.1,346.8" fill="#1c1c1c" stroke="#161616" stroke-width="1.0" stroke-linejoin="round" />
<path d="M285.7,284 Q300,272 322.3,268.4 Q350,258 373.3,247.5 L374.9,238.6 Q385,233 395.3,231.6 Q410,229.3 423.5,231.1 L453,254 L496.4,290.2 L495,296 L446,300 L442.5,295.8 L437.3,291.9 L326.2,335 L289.6,306.3 Z" fill="url(#rf)" stroke="#161616" stroke-width="1.5" stroke-linejoin="round" stroke-linecap="round" />
<path d="M285.7,284 Q300,272 322.3,268.4 Q305,276 296,286 Q291,296 289.6,306.3 Z" fill="#e2e2e2" stroke="none" stroke-width="1.5" stroke-linejoin="round" stroke-linecap="round" />
<path d="M289.6,306.3 Q292,292 302,283 Q318,272 340,265 L373.3,249.5" fill="none" stroke="#161616" stroke-width="1.25" stroke-linejoin="round" stroke-linecap="round" />
<polyline points="326.2,335.0 437.3,291.9 443.9,306.8" fill="none" stroke="#161616" stroke-width="1.25" stroke-linejoin="round" stroke-linecap="round" />
<polyline points="374.6,239.6 373.3,248.2 395.5,254.0 412.5,268.4 439.9,294.5" fill="none" stroke="#161616" stroke-width="1.375" stroke-linejoin="round" stroke-linecap="round" />
<path d="M412.5,268.4 Q420,262.5 432,260.5 L458.5,260" fill="none" stroke="#161616" stroke-width="1.25" stroke-linejoin="round" stroke-linecap="round" />
<polygon points="444.1,293.5 496.2,289.9 496.7,295.9 445.7,305.1" fill="#ffffff" stroke="#161616" stroke-width="1.375" stroke-linejoin="round" />
<polygon points="483.0,301.0 490.0,300.0 490.0,305.0 484.0,306.0" fill="#d01818" stroke="#700" stroke-width="0.75" stroke-linejoin="round" />
<path d="M378.6,258.6 L378.6,264.6 A9.0,5.0 0 0 0 396.6,264.6 L396.6,258.6 Z" fill="#1b1b1b" stroke="#1b1b1b" stroke-width="1.4"/>
<ellipse cx="387.6" cy="258.6" rx="9.0" ry="5.0" fill="#ffffff" stroke="#1b1b1b" stroke-width="1.4" />
<path d="M397.0,273.6 L397.0,279.6 A9.0,5.0 0 0 0 415.0,279.6 L415.0,273.6 Z" fill="#1b1b1b" stroke="#1b1b1b" stroke-width="1.4"/>
<ellipse cx="406.0" cy="273.6" rx="9.0" ry="5.0" fill="#ffffff" stroke="#1b1b1b" stroke-width="1.4" />
<polygon points="445.2,309.3 481.8,338.0 481.8,346.0 445.2,316.5" fill="#b1b1b1" stroke="#161616" stroke-width="1.25" stroke-linejoin="round" />
<polygon points="481.8,338.0 506.7,327.6 506.7,335.6 481.8,346.0" fill="#b1b1b1" stroke="#161616" stroke-width="1.25" stroke-linejoin="round" />
<polygon points="445.2,309.3 468.8,297.0 506.7,327.6 481.8,338.0" fill="#a4a4a4" stroke="#161616" stroke-width="1.5" stroke-linejoin="round" />
<path d="M458.4,301.7 L458.4,307.7 A9.1,5.1 0 0 0 476.6,307.7 L476.6,301.7 Z" fill="#1b1b1b" stroke="#1b1b1b" stroke-width="1.4"/>
<ellipse cx="467.5" cy="301.7" rx="9.1" ry="5.1" fill="#ababab" stroke="#1b1b1b" stroke-width="1.4" />
<path d="M476.7,316.2 L476.7,322.2 A9.1,5.1 0 0 0 494.9,322.2 L494.9,316.2 Z" fill="#1b1b1b" stroke="#1b1b1b" stroke-width="1.4"/>
<ellipse cx="485.8" cy="316.2" rx="9.1" ry="5.1" fill="#ababab" stroke="#1b1b1b" stroke-width="1.4" />
<path d="M185.8,444.0 L192.9,441.4 Q198.1,455.7 204.0,470.0 L217.5,504.5 211.3,507.4 Q200.1,481.7 195.5,467.4 Z" fill="#333333" stroke="#cfcfcf" stroke-width="1.125" stroke-linejoin="round" stroke-linecap="round" />
<polyline points="190.3,445.3 200.6,471.3 213.6,505.1" fill="none" stroke="#8a8a8a" stroke-width="0.75" stroke-linejoin="round" stroke-linecap="round" />
<path d="M147.1,379.4 Q140.4,381.7 138.8,387.7 L140.4,396.0 171.6,420.4 179.9,422.5 186.4,414.2 183.2,409.0 179.4,404.3 153.9,381.9 Q150.8,379.4 147.1,379.4 Z" fill="#333333" stroke="#cfcfcf" stroke-width="1.125" stroke-linejoin="round" stroke-linecap="round" />
<polyline points="143.0,383.5 148.2,385.6 179.4,409.0" fill="none" stroke="#6a6a6a" stroke-width="0.75" stroke-linejoin="round" stroke-linecap="round" />
<polygon points="176.8,419.9 186.4,414.2 205.8,423.2 208.4,432.3 204.3,438.6 185.8,444.5 178.1,444.5" fill="#333333" stroke="#cfcfcf" stroke-width="1.125" stroke-linejoin="round" />
<polygon points="204.3,383.0 215.7,391.8 217.3,399.1 205.8,425.1 194.9,428.7 186.4,419.9 185.6,403.8" fill="#333333" stroke="#cfcfcf" stroke-width="1.125" stroke-linejoin="round" />
<polyline points="204.3,383.0 207.9,390.8 215.7,391.8" fill="none" stroke="#8a8a8a" stroke-width="0.75" stroke-linejoin="round" stroke-linecap="round" />
<polyline points="207.9,390.8 194.9,428.7" fill="none" stroke="#555" stroke-width="0.75" stroke-linejoin="round" stroke-linecap="round" />
<ellipse cx="176.0" cy="431.8" rx="8.6" ry="12.6" fill="#4a4a4a" stroke="#cfcfcf" stroke-width="1.0" transform="rotate(-14 176.0 431.8)"/>
<ellipse cx="176.0" cy="431.8" rx="6.2" ry="9.2" fill="#3a3a3a" stroke="#bdbdbd" stroke-width="0.8" transform="rotate(-14 176.0 431.8)"/>
<ellipse cx="176.5" cy="431.8" rx="3.6" ry="5.4" fill="#2a2a2a" stroke="#aaaaaa" stroke-width="0.7" transform="rotate(-14 176.0 431.8)"/>
<ellipse cx="177.0" cy="432.3" rx="1.6" ry="2.4" fill="#1a1a1a" stroke="#999" stroke-width="0.5" transform="rotate(-14 176.0 431.8)"/>
<polygon points="400.6,485.3 444.1,466.5 464.1,481.8 464.1,489.1 412.4,506.9 402.9,520.6 393.5,513.5" fill="#e20808" stroke="#161616" stroke-width="1.375" stroke-linejoin="round" />
<polyline points="464.1,481.8 413.5,499.9 407.6,508.8" fill="none" stroke="#5e0000" stroke-width="1.125" stroke-linejoin="round" stroke-linecap="round" />
<path d="M294.7,525.3 Q301.8,519.4 320.6,515.9 L340.6,506.5 353.5,495.9 358.2,485.3 372.4,482.9 400.6,497.1 412.4,506.5 411.2,514.0 402.9,520.6 354.7,544.1 Q321.1,551.2 308.8,544.1 Q294.2,541.2 298.2,535.2 Q291.7,530.3 294.7,525.3 Z" fill="#e20808" stroke="#161616" stroke-width="1.5" stroke-linejoin="round" stroke-linecap="round" />
<polyline points="298.0,525.8 307.2,533.5 322.9,537.5 339.9,536.4 385.1,518.0 407.6,507.6" fill="none" stroke="#5e0000" stroke-width="1.125" stroke-linejoin="round" stroke-linecap="round" />
<polyline points="296.1,532.4 305.9,538.0 322.2,541.8 339.9,541.1 385.1,523.2 408.8,513.1" fill="none" stroke="#5e0000" stroke-width="1.125" stroke-linejoin="round" stroke-linecap="round" />
<polyline points="307.2,533.5 305.9,542.7" fill="none" stroke="#5e0000" stroke-width="1.0" stroke-linejoin="round" stroke-linecap="round" />
<polyline points="322.9,537.5 322.9,548.6" fill="none" stroke="#5e0000" stroke-width="1.0" stroke-linejoin="round" stroke-linecap="round" />
<polygon points="316.1,523.2 322.7,519.3 334.5,527.2 326.6,531.6" fill="#e60a0a" stroke="#5e0000" stroke-width="1.125" stroke-linejoin="round" />
<polygon points="322.7,519.3 339.6,510.7 347.5,519.9 334.5,527.2" fill="#d90808" stroke="#5e0000" stroke-width="1.125" stroke-linejoin="round" />
<polygon points="339.6,510.7 360.6,494.7 367.6,498.9 347.5,519.9" fill="#e60a0a" stroke="#5e0000" stroke-width="1.125" stroke-linejoin="round" />
<polyline points="360.6,494.7 360.6,487.6" fill="none" stroke="#5e0000" stroke-width="1.125" stroke-linejoin="round" stroke-linecap="round" />
<path d="M358.2,485.3 L362.9,475.9 Q367.6,470.0 377.5,469.3 Q393.5,472.4 398.7,487.6 L399.6,506.5 393.5,513.1 378.9,518.7 372.4,514.9 372.4,494.7 364.8,491.9 Z" fill="#e20808" stroke="#161616" stroke-width="1.5" stroke-linejoin="round" stroke-linecap="round" />
<polyline points="372.4,494.7 377.5,485.3 384.1,478.2" fill="none" stroke="#5e0000" stroke-width="1.125" stroke-linejoin="round" stroke-linecap="round" />
<polyline points="378.9,518.7 379.4,505.3" fill="none" stroke="#5e0000" stroke-width="1.125" stroke-linejoin="round" stroke-linecap="round" />
<polyline points="393.5,513.1 393.5,502.9" fill="none" stroke="#5e0000" stroke-width="1.125" stroke-linejoin="round" stroke-linecap="round" />
<ellipse cx="385.8" cy="494.7" rx="10.6" ry="11.6" fill="#b00000" stroke="#300" stroke-width="1.0" transform="rotate(20 385.8 494.7)"/>
<ellipse cx="385.8" cy="494.7" rx="8.6" ry="9.6" fill="#2a6cd4" stroke="#0e2f6e" stroke-width="1.1" transform="rotate(20 385.8 494.7)"/>
<path d="M381.8,493.7 q3,-5 8,-2 M389.8,495.7 q-3,5 -8,2" fill="none" stroke="#0e2f6e" stroke-width="1.25" stroke-linejoin="round" stroke-linecap="round" />
<path d="M408.1,483.7 L408.1,488.1 A9.0,5.4 0 0 0 426.1,488.1 L426.1,483.7 Z" fill="#160303" stroke="#160303" stroke-width="1.0"/>
<ellipse cx="417.1" cy="483.7" rx="9.0" ry="5.4" fill="#d80000" stroke="#160303" stroke-width="1.0" />
<ellipse cx="417.1" cy="484.6" rx="6.4" ry="3.7" fill="#1c0202" stroke="#200" stroke-width="0.6" />
<path d="M431.6,473.1 L431.6,477.5 A9.0,5.4 0 0 0 449.6,477.5 L449.6,473.1 Z" fill="#160303" stroke="#160303" stroke-width="1.0"/>
<ellipse cx="440.6" cy="473.1" rx="9.0" ry="5.4" fill="#d80000" stroke="#160303" stroke-width="1.0" />
<ellipse cx="440.6" cy="474.0" rx="6.4" ry="3.7" fill="#1c0202" stroke="#200" stroke-width="0.6" />
</svg>
<svg width="765" height="578" viewBox="0 0 765 578">
<rect x="57.4" y="28.7" width="310.7" height="134.4" rx="12.4" ry="12.4" fill="#b2d7f1" stroke="#0d0d0d" stroke-width="1.75"/>
<polygon points="195.2,86.9 188.8,92.4 176.9,123.0 176.5,125.3 178.3,127.8 186.1,130.0 187.4,128.9 203.9,97.8 204.1,92.8" fill="#333333" stroke="#cfcfcf" stroke-width="0.8" stroke-linejoin="round"/>
<polyline points="196.1,88.7 190.6,93.7 178.8,124.4" fill="none" stroke="#c8c8c8" stroke-width="0.6"/>
<polygon points="190.5,76.2 196.4,80.1 202.9,74.2 210.8,76.8 204.2,90.6 197.7,87.9 190.5,81.4" fill="#333333" stroke="#555" stroke-width="0.6" stroke-linejoin="round"/>
<polygon points="182.6,45.5 177.4,52.0 178.1,56.6 190.5,75.5 196.4,80.1 202.9,74.2 202.3,68.3 186.6,47.4" fill="#333333" stroke="#cfcfcf" stroke-width="0.8" stroke-linejoin="round"/>
<polyline points="184.6,48.1 178.7,54.6" fill="none" stroke="#c8c8c8" stroke-width="0.7"/>
<polygon points="210.8,74.2 217.3,69.6 247.4,57.9 250.6,59.2 250.6,64.4 247.4,67.0 217.3,80.1 214.0,77.5" fill="#333333" stroke="#cfcfcf" stroke-width="0.8" stroke-linejoin="round"/>
<polyline points="217.3,72.9 248.7,60.5" fill="none" stroke="#c8c8c8" stroke-width="0.7"/>
<ellipse cx="208.8" cy="84.3" rx="7.2" ry="8.8" fill="#c9c9c9" stroke="#3a3a3a" stroke-width="0.7" transform="rotate(28 208.8 84.3)"/>
<ellipse cx="208.8" cy="84.3" rx="4.6" ry="5.9" fill="#2e2e2e" stroke="#222" stroke-width="0.6" transform="rotate(28 208.8 84.3)"/>
</svg>
<div class="step">37</div>
<div class="qty">1x</div>
<div class="pg">45</div>
</body></html>
